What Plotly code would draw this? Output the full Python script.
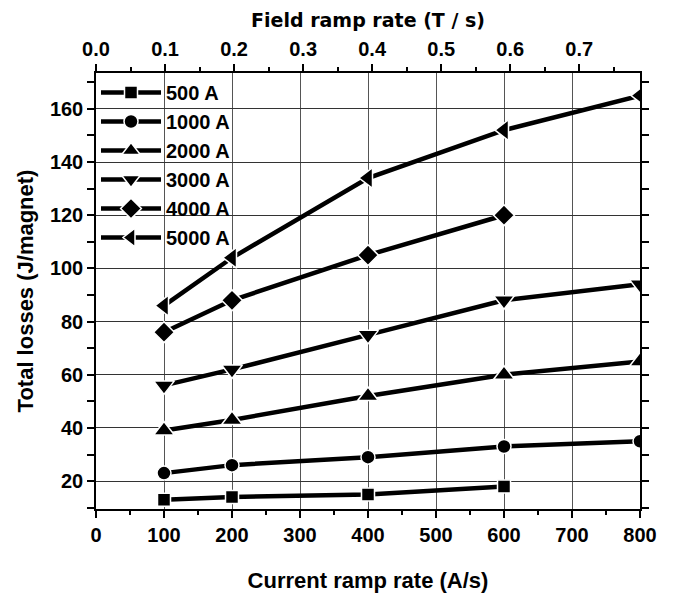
import plotly.graph_objects as go

# ---- data ----
current_rate = [100, 200, 400, 600, 800]          # A/s
series_names = ["500 A", "1000 A", "2000 A", "3000 A", "4000 A", "5000 A"]
loss_500 = [13, 14, 15, 18]
loss_1000 = [23, 26, 29, 33, 35]
loss_2000 = [39, 43, 52, 60, 65]
loss_3000 = [56, 62, 75, 88, 94]
loss_4000 = [76, 88, 105, 120]
loss_5000 = [86, 104, 134, 152, 165]
field_ticks = [0.0, 0.1, 0.2, 0.3, 0.4, 0.5, 0.6, 0.7]
field_tick_text = ["0.0", "0.1", "0.2", "0.3", "0.4", "0.5", "0.6", "0.7"]

series_values = [loss_500, loss_1000, loss_2000, loss_3000, loss_4000, loss_5000]
symbols = ["square", "circle", "triangle-up", "triangle-down", "diamond", "triangle-left"]
sizes = [13, 14, 18, 18, 16, 18]

fig = go.Figure()
for name, vals, sym, sz in zip(series_names, series_values, symbols, sizes):
    fig.add_trace(go.Scatter(
        x=current_rate[:len(vals)], y=vals, name=name, mode="lines+markers",
        line=dict(color="black", width=4.5),
        marker=dict(symbol=sym, size=sz, color="black",
                    line=dict(color="white", width=1.5)),
    ))

# invisible trace to activate top axis
fig.add_trace(go.Scatter(x=[0, 0.788], y=[None, None], xaxis="x2",
                         showlegend=False, hoverinfo="skip", mode="markers"))

tickfont = dict(family="Liberation Sans, Arial", size=20, color="black", weight="bold")

fig.update_layout(
    width=673, height=593,
    margin=dict(l=96, r=33, t=73, b=84),
    plot_bgcolor="white", paper_bgcolor="white",
    font=dict(family="Liberation Sans, Arial", color="black"),
    xaxis=dict(
        range=[0, 800], tickvals=[0, 100, 200, 300, 400, 500, 600, 700, 800],
        ticks="outside", ticklen=7, tickwidth=1.5, tickcolor="black",
        showline=True, linecolor="black", linewidth=1.5, automargin=False,
        showgrid=True, gridcolor="#555555", gridwidth=1,
        zeroline=False, tickfont=tickfont,
        minor=dict(dtick=50, ticks="outside", ticklen=4, tickcolor="black", showgrid=False),
        title=dict(text="Current ramp rate (A/s)", standoff=28,
                   font=dict(family="Liberation Sans, Arial", size=22, color="black", weight="bold")),
    ),
    xaxis2=dict(
        overlaying="x", side="top", range=[0, 0.788],
        tickvals=field_ticks, ticktext=field_tick_text,
        ticks="outside", ticklen=7, tickwidth=1.5, tickcolor="black",
        showline=True, linecolor="black", linewidth=1.5, automargin=False,
        showgrid=False, zeroline=False, tickfont=tickfont,
        minor=dict(dtick=0.05, ticks="outside", ticklen=4, tickcolor="black", showgrid=False),
        title=dict(text="Field ramp rate (T / s)", standoff=6,
                   font=dict(family="DejaVu Sans", size=19, color="black", weight="bold")),
    ),
    yaxis=dict(
        range=[9.5, 173.5], tickvals=[20, 40, 60, 80, 100, 120, 140, 160],
        ticks="outside", ticklen=7, tickwidth=1.5, tickcolor="black",
        showline=True, linecolor="black", linewidth=1.5, mirror="allticks", automargin=False,
        showgrid=True, gridcolor="#333333", gridwidth=1,
        zeroline=False, tickfont=tickfont,
        minor=dict(dtick=10, ticks="outside", ticklen=4, tickcolor="black", showgrid=False),
        title=dict(text="Total losses (J/magnet)", standoff=10,
                   font=dict(family="Liberation Sans, Arial", size=22, color="black", weight="bold")),
    ),
    legend=dict(
        x=0.0, y=1.0, xanchor="left", yanchor="top",
        bgcolor="rgba(0,0,0,0)", borderwidth=0,
        itemwidth=60, tracegroupgap=0,
        font=dict(family="Liberation Sans, Arial", size=20, color="black", weight="bold"),
    ),
    showlegend=True,
)

fig.write_html("out.html")
